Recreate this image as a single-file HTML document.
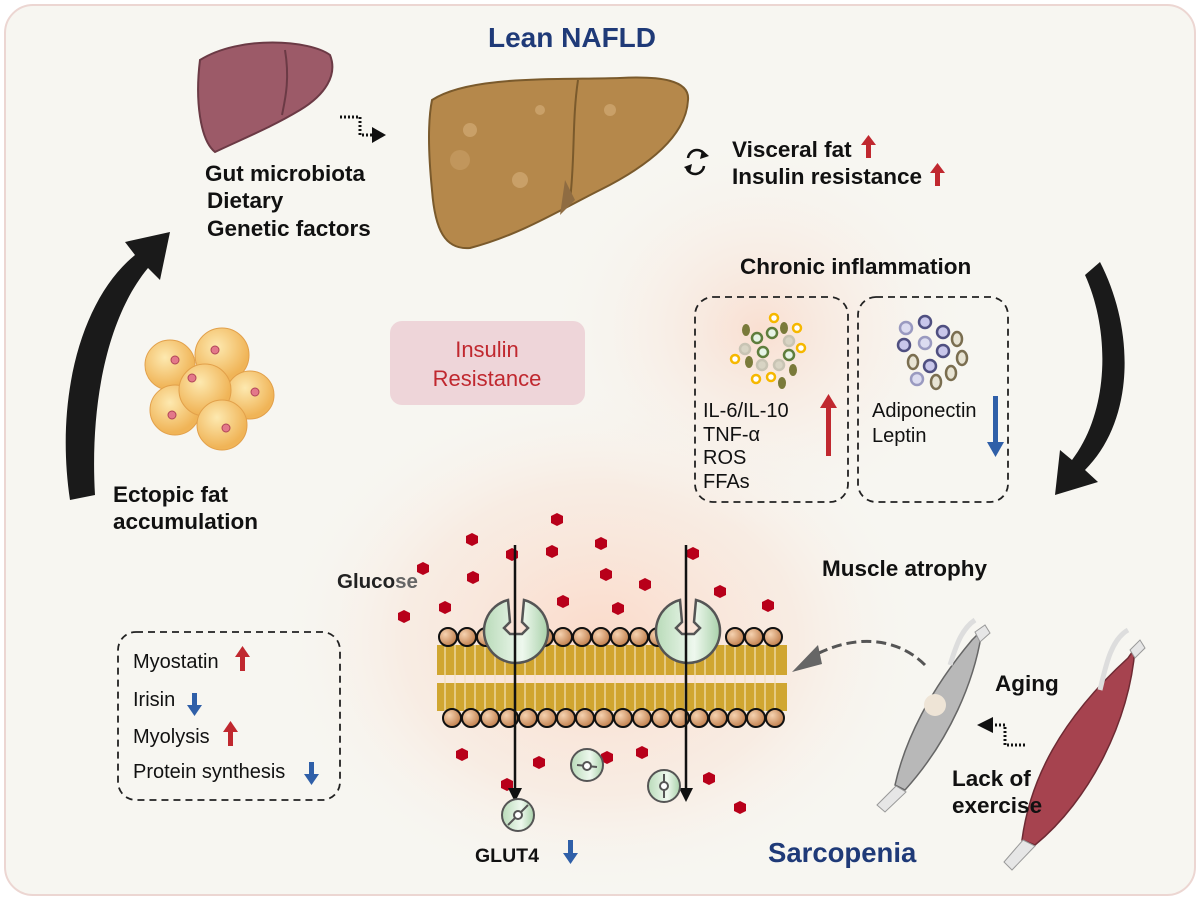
<!DOCTYPE html>
<html><head><meta charset="utf-8"><style>
html,body{margin:0;padding:0;background:#fff}
svg{display:block}
text{font-family:"Liberation Sans",Arial,sans-serif}
.b{font-weight:bold;font-size:22.5px;fill:#111}
.r{font-size:20px;fill:#111}
</style></head><body>
<svg width="1200" height="900" viewBox="0 0 1200 900" xmlns="http://www.w3.org/2000/svg">
<defs>
<radialGradient id="glow" cx="0.5" cy="0.5" r="0.5">
<stop offset="0" stop-color="#fbd9c8" stop-opacity="0.95"/>
<stop offset="0.6" stop-color="#f9e6da" stop-opacity="0.6"/>
<stop offset="1" stop-color="#f7f6f1" stop-opacity="0"/>
</radialGradient>
<radialGradient id="glow2" cx="0.5" cy="0.5" r="0.5">
<stop offset="0" stop-color="#fad9c9" stop-opacity="0.8"/>
<stop offset="1" stop-color="#f7f6f1" stop-opacity="0"/>
</radialGradient>
<radialGradient id="fat" cx="0.4" cy="0.35" r="0.6">
<stop offset="0" stop-color="#fde9b0"/><stop offset="1" stop-color="#f0b457"/>
</radialGradient>
<linearGradient id="green" x1="0" x2="1"><stop offset="0" stop-color="#b9dbb9"/><stop offset="0.6" stop-color="#eef8ee"/><stop offset="1" stop-color="#a9d1aa"/></linearGradient>
<radialGradient id="head" cx="0.35" cy="0.35" r="0.7"><stop offset="0" stop-color="#f5d2b0"/><stop offset="1" stop-color="#c07d4a"/></radialGradient>
</defs>
<rect x="5" y="5" width="1190" height="890" rx="28" fill="#f7f6f1" stroke="#ecd6d2" stroke-width="2"/>
<ellipse cx="600" cy="640" rx="330" ry="260" fill="url(#glow)"/>
<ellipse cx="760" cy="330" rx="220" ry="200" fill="url(#glow2)"/>

<!-- small liver -->
<path d="M200,60 C240,35 310,40 330,55 C338,75 325,95 300,110 C270,128 240,140 215,152 C200,140 195,100 200,60 Z" fill="#9c5a68" stroke="#6b3a45" stroke-width="2"/>
<path d="M285,50 C290,80 285,100 282,115" stroke="#6b3a45" stroke-width="2" fill="none"/>
<path d="M340,117 H360 V135 H372" stroke="#111" stroke-width="3" stroke-dasharray="2,2" fill="none"/>
<polygon points="372,127 386,135 372,143" fill="#111"/>

<!-- big liver -->
<path d="M432,100 C470,75 560,80 620,78 C660,76 690,80 688,100 C686,140 640,170 600,190 C560,210 520,235 470,248 C445,250 435,230 432,190 C428,150 428,120 432,100 Z" fill="#b5884b" stroke="#7a5a2c" stroke-width="2"/>
<path d="M578,80 C572,120 575,160 570,200" stroke="#7a5a2c" stroke-width="2" fill="none"/>
<path d="M565,180 L575,200 L560,215 Z" fill="#8f6c42"/>
<circle cx="470" cy="130" r="7" fill="#c9a068"/><circle cx="520" cy="180" r="8" fill="#c9a068"/><circle cx="610" cy="110" r="6" fill="#c9a068"/><circle cx="460" cy="160" r="10" fill="#c9a068" opacity="0.6"/><circle cx="540" cy="110" r="5" fill="#c9a068"/>
<text x="488" y="47" font-size="28" font-weight="bold" fill="#1f3a78">Lean NAFLD</text>

<text x="205" y="181" class="b">Gut microbiota</text>
<text x="207" y="208" class="b">Dietary</text>
<text x="207" y="236" class="b">Genetic factors</text>

<g stroke="#111" stroke-width="2.5" fill="none"><path d="M688,158 A9,9 0 0 1 705,155"/><path d="M704,166 A9,9 0 0 1 687,169"/></g>
<polygon points="702,150 709,156 700,159" fill="#111"/><polygon points="690,173 684,167 692,164" fill="#111"/>
<text x="732" y="157" class="b">Visceral fat</text>
<text x="732" y="184" class="b">Insulin resistance</text>
<g fill="#c0282f"><rect x="866" y="143" width="5" height="15"/><polygon points="861,145 868.5,135 876,145"/><rect x="935" y="171" width="5" height="15"/><polygon points="930,173 937.5,163 945,173"/></g>

<text x="740" y="274" class="b">Chronic inflammation</text>
<rect x="695" y="297" width="153" height="205" rx="18" fill="none" stroke="#222" stroke-width="1.8" stroke-dasharray="7,5"/>
<rect x="858" y="297" width="150" height="205" rx="18" fill="none" stroke="#222" stroke-width="1.8" stroke-dasharray="7,5"/>
<g stroke-width="2.5">
<circle cx="774" cy="318" r="4" fill="#fff" stroke="#f6b800"/><circle cx="797" cy="328" r="4" fill="#fff" stroke="#f6b800"/><circle cx="801" cy="348" r="4" fill="#fff" stroke="#f6b800"/><circle cx="735" cy="359" r="4" fill="#fff" stroke="#f6b800"/><circle cx="756" cy="379" r="4" fill="#fff" stroke="#f6b800"/><circle cx="771" cy="377" r="4" fill="#fff" stroke="#f6b800"/>
<circle cx="757" cy="338" r="5" fill="#e6f4e6" stroke="#5e7d3c"/><circle cx="772" cy="333" r="5" fill="#e6f4e6" stroke="#5e7d3c"/><circle cx="763" cy="352" r="5" fill="#e6f4e6" stroke="#5e7d3c"/><circle cx="789" cy="355" r="5" fill="#e6f4e6" stroke="#5e7d3c"/>
<circle cx="745" cy="349" r="5" fill="#d8d4c4" stroke="#c8c4b4"/><circle cx="789" cy="341" r="5" fill="#d8d4c4" stroke="#c8c4b4"/><circle cx="762" cy="365" r="5" fill="#d8d4c4" stroke="#c8c4b4"/><circle cx="779" cy="365" r="5" fill="#d8d4c4" stroke="#c8c4b4"/>
</g>
<g fill="#7a7a3a"><ellipse cx="746" cy="330" rx="4" ry="6"/><ellipse cx="784" cy="328" rx="4" ry="6"/><ellipse cx="749" cy="362" rx="4" ry="6"/><ellipse cx="793" cy="370" rx="4" ry="6"/><ellipse cx="782" cy="383" rx="4" ry="6"/></g>
<g stroke-width="2.5">
<circle cx="906" cy="328" r="6" fill="#dcdcf0" stroke="#9a9ac0"/><circle cx="925" cy="322" r="6" fill="#c8c6ea" stroke="#4f4f80"/><circle cx="943" cy="332" r="6" fill="#c8c6ea" stroke="#4f4f80"/><circle cx="904" cy="345" r="6" fill="#c8c6ea" stroke="#4f4f80"/><circle cx="925" cy="343" r="6" fill="#dcdcf0" stroke="#9a9ac0"/><circle cx="943" cy="351" r="6" fill="#c8c6ea" stroke="#4f4f80"/><circle cx="930" cy="366" r="6" fill="#c8c6ea" stroke="#4f4f80"/><circle cx="917" cy="379" r="6" fill="#dcdcf0" stroke="#9a9ac0"/>
<ellipse cx="957" cy="339" rx="5" ry="7" fill="#e8e4d4" stroke="#7a6e50"/><ellipse cx="962" cy="358" rx="5" ry="7" fill="#e8e4d4" stroke="#7a6e50"/><ellipse cx="913" cy="362" rx="5" ry="7" fill="#e8e4d4" stroke="#7a6e50"/><ellipse cx="951" cy="373" rx="5" ry="7" fill="#e8e4d4" stroke="#7a6e50"/><ellipse cx="936" cy="382" rx="5" ry="7" fill="#e8e4d4" stroke="#7a6e50"/>
</g>
<text x="703" y="417" class="r">IL-6/IL-10</text>
<text x="703" y="441" class="r">TNF-α</text>
<text x="703" y="464" class="r">ROS</text>
<text x="703" y="488" class="r" fill="#444">FFAs</text>
<rect x="826" y="406" width="5" height="50" fill="#c0282f"/><polygon points="820,408 828.5,394 837,408" fill="#c0282f"/>
<text x="872" y="417" class="r" font-size="21">Adiponectin</text>
<text x="872" y="442" class="r" font-size="21">Leptin</text>
<rect x="993" y="396" width="5" height="48" fill="#2f5fa8"/><polygon points="987,442 995.5,457 1004,442" fill="#2f5fa8"/>

<rect x="390" y="321" width="195" height="84" rx="12" fill="#ecd2d6" opacity="0.9"/>
<text x="487" y="357" font-size="22" fill="#c0282f" text-anchor="middle">Insulin</text>
<text x="487" y="386" font-size="22" fill="#c0282f" text-anchor="middle">Resistance</text>

<path d="M70,500 C55,400 80,300 135,255 L125,242 L170,232 L160,280 L148,268 C105,320 90,410 95,495 Z" fill="#1a1a1a"/>
<path d="M1100,262 C1135,330 1135,420 1085,470 L1098,482 L1055,495 L1060,450 L1072,460 C1110,410 1110,330 1085,275 Z" fill="#1a1a1a"/>

<g stroke="#e2a04a" stroke-width="1">
<circle cx="170" cy="365" r="25" fill="url(#fat)"/><circle cx="222" cy="355" r="27" fill="url(#fat)"/><circle cx="250" cy="395" r="24" fill="url(#fat)"/><circle cx="175" cy="410" r="25" fill="url(#fat)"/><circle cx="205" cy="390" r="26" fill="url(#fat)"/><circle cx="222" cy="425" r="25" fill="url(#fat)"/>
</g>
<g fill="#e3788a" stroke="#b04458"><circle cx="175" cy="360" r="4"/><circle cx="215" cy="350" r="4"/><circle cx="255" cy="392" r="4"/><circle cx="172" cy="415" r="4"/><circle cx="192" cy="378" r="4"/><circle cx="226" cy="428" r="4"/></g>
<text x="113" y="502" class="b">Ectopic fat</text>
<text x="113" y="529" class="b">accumulation</text>

<g fill="#b8001a">
<polygon points="557,513 563,516 563,523 557,526 551,523 551,516"/><polygon points="512,548 518,551 518,558 512,561 506,558 506,551"/><polygon points="472,533 478,536 478,543 472,546 466,543 466,536"/><polygon points="552,545 558,548 558,555 552,558 546,555 546,548"/><polygon points="601,537 607,540 607,547 601,550 595,547 595,540"/><polygon points="693,547 699,550 699,557 693,560 687,557 687,550"/><polygon points="606,568 612,571 612,578 606,581 600,578 600,571"/><polygon points="645,578 651,581 651,588 645,591 639,588 639,581"/><polygon points="423,562 429,565 429,572 423,575 417,572 417,565"/><polygon points="473,571 479,574 479,581 473,584 467,581 467,574"/><polygon points="563,595 569,598 569,605 563,608 557,605 557,598"/><polygon points="618,602 624,605 624,612 618,615 612,612 612,605"/><polygon points="445,601 451,604 451,611 445,614 439,611 439,604"/><polygon points="404,610 410,613 410,620 404,623 398,620 398,613"/><polygon points="720,585 726,588 726,595 720,598 714,595 714,588"/><polygon points="768,599 774,602 774,609 768,612 762,609 762,602"/><polygon points="462,748 468,751 468,758 462,761 456,758 456,751"/><polygon points="539,756 545,759 545,766 539,769 533,766 533,759"/><polygon points="607,751 613,754 613,761 607,764 601,761 601,754"/><polygon points="642,746 648,749 648,756 642,759 636,756 636,749"/><polygon points="709,772 715,775 715,782 709,785 703,782 703,775"/><polygon points="507,778 513,781 513,788 507,791 501,788 501,781"/><polygon points="740,801 746,804 746,811 740,814 734,811 734,804"/>
</g>
<text x="337" y="588" font-size="20.5" font-weight="bold" fill="#222">Gluco<tspan fill="#666">se</tspan></text>

<g fill="#c99a12">
<rect x="437" y="645" width="350" height="30" opacity="0.85"/>
<rect x="437" y="683" width="350" height="28" opacity="0.85"/>
</g>
<g stroke="#f3e1b8" stroke-width="1.5" opacity="0.8">
<path d="M445,645V711M455,645V711M465,645V711M475,645V711M485,645V711M495,645V711M505,645V711M515,645V711M525,645V711M535,645V711M545,645V711M555,645V711M565,645V711M575,645V711M585,645V711M595,645V711M605,645V711M615,645V711M625,645V711M635,645V711M645,645V711M655,645V711M665,645V711M675,645V711M685,645V711M695,645V711M705,645V711M715,645V711M725,645V711M735,645V711M745,645V711M755,645V711M765,645V711M775,645V711"/>
</g>
<g fill="url(#head)" stroke="#111" stroke-width="2">
<circle cx="448" cy="637" r="9"/><circle cx="467" cy="637" r="9"/><circle cx="486" cy="637" r="9"/><circle cx="544" cy="637" r="9"/><circle cx="563" cy="637" r="9"/><circle cx="582" cy="637" r="9"/><circle cx="601" cy="637" r="9"/><circle cx="620" cy="637" r="9"/><circle cx="639" cy="637" r="9"/><circle cx="658" cy="637" r="9"/><circle cx="735" cy="637" r="9"/><circle cx="754" cy="637" r="9"/><circle cx="773" cy="637" r="9"/>
<circle cx="452" cy="718" r="9"/><circle cx="471" cy="718" r="9"/><circle cx="490" cy="718" r="9"/><circle cx="509" cy="718" r="9"/><circle cx="528" cy="718" r="9"/><circle cx="547" cy="718" r="9"/><circle cx="566" cy="718" r="9"/><circle cx="585" cy="718" r="9"/><circle cx="604" cy="718" r="9"/><circle cx="623" cy="718" r="9"/><circle cx="642" cy="718" r="9"/><circle cx="661" cy="718" r="9"/><circle cx="680" cy="718" r="9"/><circle cx="699" cy="718" r="9"/><circle cx="718" cy="718" r="9"/><circle cx="737" cy="718" r="9"/><circle cx="756" cy="718" r="9"/><circle cx="775" cy="718" r="9"/>
</g>
<g fill="url(#green)" stroke="#555" stroke-width="2.5">
<path d="M508,600 A32,32 0 1 0 524,600 L522,622 L528,628 L522,634 L510,634 L504,628 L510,622 Z"/>
<path d="M680,600 A32,32 0 1 0 696,600 L694,622 L700,628 L694,634 L682,634 L676,628 L682,622 Z"/>
</g>
<g stroke="#111" stroke-width="2.5"><line x1="515" y1="545" x2="515" y2="795"/><line x1="686" y1="545" x2="686" y2="795"/></g>
<polygon points="508,788 515,802 522,788" fill="#111"/><polygon points="679,788 686,802 693,788" fill="#111"/>
<g fill="url(#green)" stroke="#555" stroke-width="2">
<circle cx="518" cy="815" r="16"/><circle cx="587" cy="765" r="16"/><circle cx="664" cy="786" r="16"/>
</g>
<g stroke="#555" stroke-width="2" fill="#fff"><line x1="508" y1="825" x2="528" y2="805"/><circle cx="518" cy="815" r="4"/><line x1="577" y1="765" x2="597" y2="767"/><circle cx="587" cy="766" r="4"/><line x1="664" y1="774" x2="664" y2="798"/><circle cx="664" cy="786" r="4"/></g>
<text x="475" y="862" font-size="19.5" font-weight="bold" fill="#111">GLUT4</text>
<rect x="568" y="840" width="5" height="15" fill="#2f5fa8"/><polygon points="563,853 570.5,864 578,853" fill="#2f5fa8"/>

<text x="822" y="576" class="b">Muscle atrophy</text>

<rect x="118" y="632" width="222" height="168" rx="18" fill="none" stroke="#222" stroke-width="1.8" stroke-dasharray="7,5"/>
<text x="133" y="668" class="r">Myostatin</text>
<text x="133" y="706" class="r">Irisin</text>
<text x="133" y="743" class="r">Myolysis</text>
<text x="133" y="778" class="r">Protein synthesis</text>
<g fill="#c0282f"><rect x="240" y="655" width="5" height="16"/><polygon points="235,657 242.5,646 250,657"/><rect x="228" y="730" width="5" height="16"/><polygon points="223,732 230.5,721 238,732"/></g>
<g fill="#2f5fa8"><rect x="192" y="693" width="5" height="14"/><polygon points="187,705 194.5,716 202,705"/><rect x="309" y="762" width="5" height="14"/><polygon points="304,774 311.5,785 319,774"/></g>

<path d="M925,665 C900,640 860,632 815,655" stroke="#555" stroke-width="3" stroke-dasharray="10,5" fill="none"/>
<polygon points="792,672 818,645 822,664" fill="#666"/>

<path d="M972,640 L982,630 C975,680 950,740 905,790 L895,785 C905,740 930,690 972,640 Z" fill="#b8b8b8" stroke="#666" stroke-width="1.5"/>
<path d="M975,632 L985,625 L990,633 L980,642 Z M896,786 L906,792 L885,812 L877,805 Z" fill="#e6e6e6" stroke="#999"/>
<circle cx="935" cy="705" r="11" fill="#eee4d6"/>
<path d="M1128,658 L1135,648 C1130,720 1090,800 1035,845 L1022,840 C1030,780 1060,720 1128,658 Z" fill="#a6434f" stroke="#6e2a33" stroke-width="1.5"/>
<path d="M1130,650 L1140,640 L1145,648 L1135,658 Z M1023,840 L1035,846 L1012,870 L1004,862 Z" fill="#e6e6e6" stroke="#999"/>
<path d="M1128,630 C1110,640 1105,670 1100,690" stroke="#ddd" stroke-width="5" fill="none"/>
<path d="M975,620 C960,630 955,650 950,665" stroke="#ddd" stroke-width="5" fill="none"/>

<text x="995" y="691" class="b">Aging</text>
<path d="M1025,745 H1005 V725 H993" stroke="#111" stroke-width="3" stroke-dasharray="2,2" fill="none"/>
<polygon points="993,717 977,725 993,733" fill="#111"/>
<text x="952" y="786" class="b">Lack of</text>
<text x="952" y="813" class="b">exercise</text>
<text x="768" y="862" font-size="27.5" font-weight="bold" fill="#1f3a78">Sarcopenia</text>
</svg>
</body></html>
